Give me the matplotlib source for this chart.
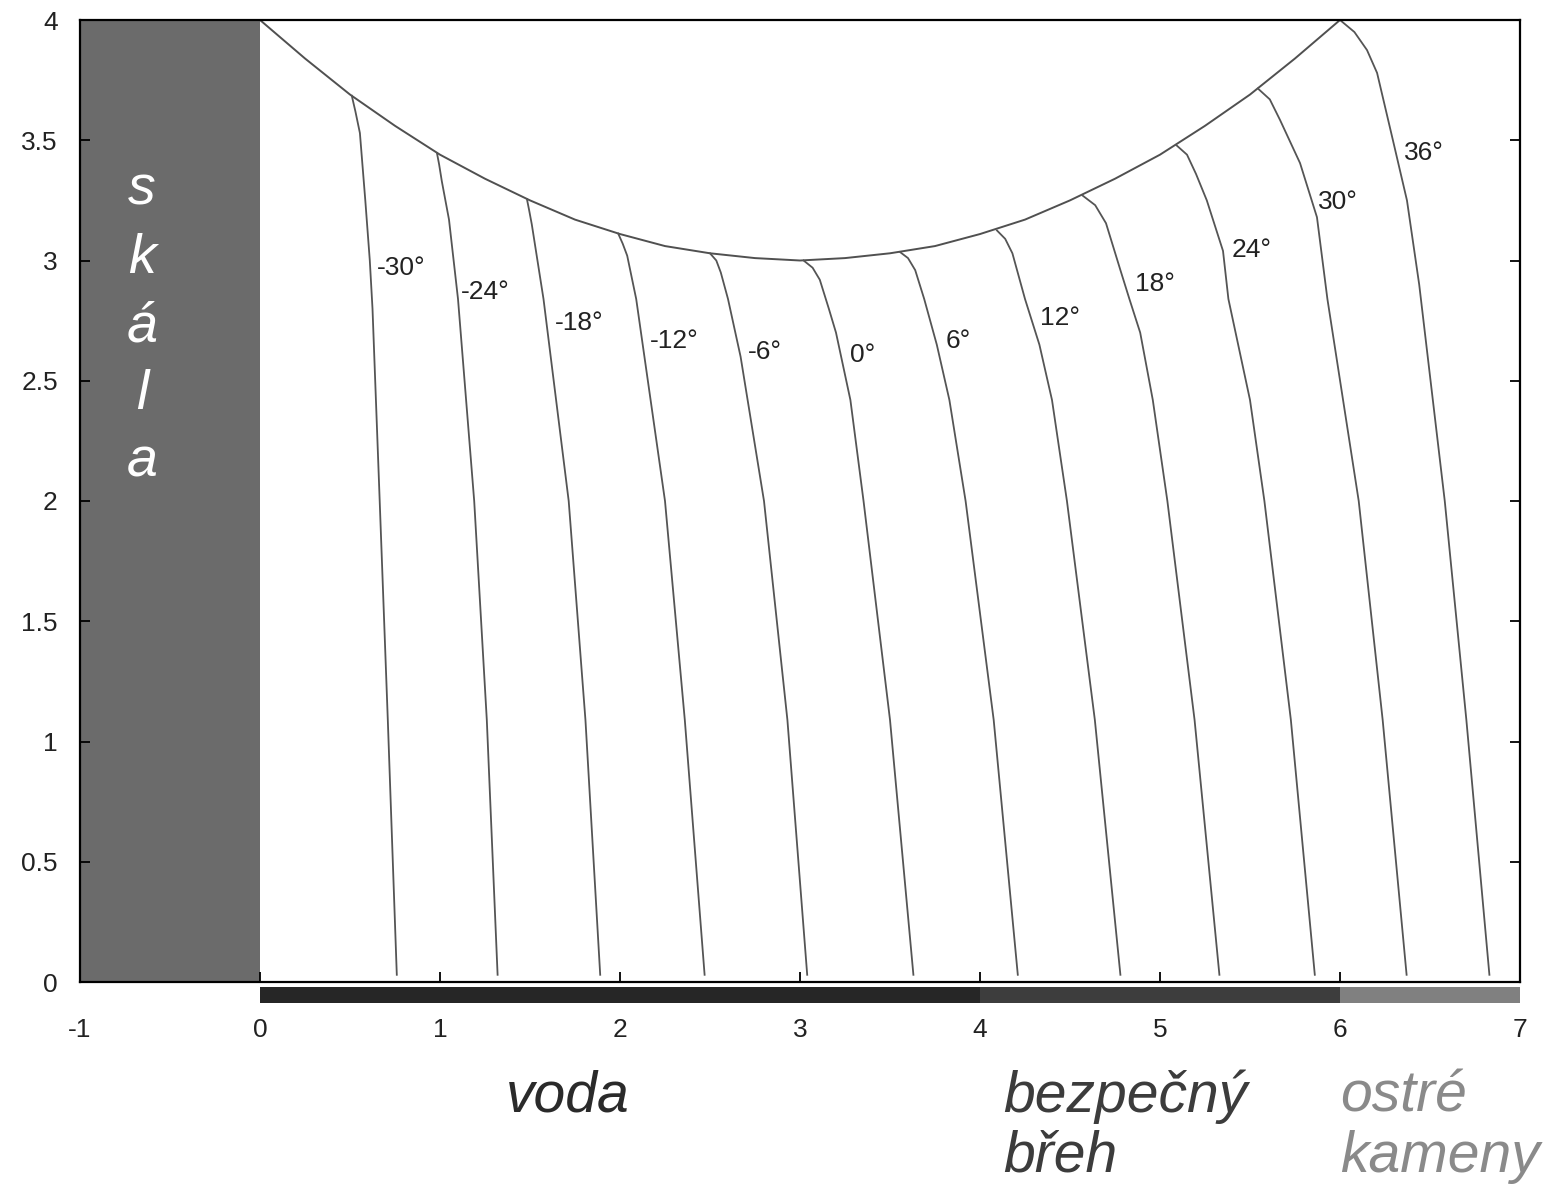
import matplotlib
matplotlib.use("Agg")
import matplotlib.pyplot as plt
from matplotlib.patches import Rectangle

plt.rcParams['font.family'] = ['Liberation Sans', 'DejaVu Sans']

# ---------------- data ----------------
angle_labels = ["-30°", "-24°", "-18°", "-12°", "-6°", "0°", "6°", "12°", "18°", "24°", "30°", "36°"]

# upper envelope (launch points)
envelope_x = [0.0, 0.25, 0.5, 0.75, 1.0, 1.25, 1.5, 1.75, 2.0, 2.25, 2.5, 2.75, 3.0,
              3.25, 3.5, 3.75, 4.0, 4.25, 4.5, 4.75, 5.0, 5.25, 5.5, 5.75, 6.0]
envelope_y = [4.0, 3.84, 3.69, 3.56, 3.44, 3.34, 3.25, 3.17, 3.11, 3.06, 3.03, 3.01, 3.0,
              3.01, 3.03, 3.06, 3.11, 3.17, 3.25, 3.34, 3.44, 3.56, 3.69, 3.84, 4.0]

# trajectories (x, y) from launch point down to the water
traj_m30_x = [0.51, 0.53, 0.555, 0.585, 0.61, 0.625, 0.665, 0.71, 0.76]
traj_m30_y = [3.685, 3.62, 3.53, 3.25, 3.0, 2.8, 2.0, 1.09, 0.03]
traj_m24_x = [0.983, 0.995, 1.01, 1.05, 1.10, 1.19, 1.26, 1.32]
traj_m24_y = [3.447, 3.40, 3.33, 3.17, 2.84, 2.0, 1.09, 0.03]
traj_m18_x = [1.483, 1.495, 1.51, 1.575, 1.715, 1.808, 1.89]
traj_m18_y = [3.255, 3.21, 3.15, 2.84, 2.0, 1.09, 0.03]
traj_m12_x = [1.99, 2.015, 2.04, 2.09, 2.25, 2.36, 2.47]
traj_m12_y = [3.112, 3.07, 3.02, 2.84, 2.0, 1.09, 0.03]
traj_m6_x = [2.5, 2.535, 2.56, 2.60, 2.67, 2.80, 2.93, 3.04]
traj_m6_y = [3.03, 3.0, 2.95, 2.84, 2.6, 2.0, 1.09, 0.03]
traj_0_x = [3.02, 3.07, 3.11, 3.16, 3.20, 3.28, 3.353, 3.50, 3.63]
traj_0_y = [3.0, 2.97, 2.92, 2.80, 2.70, 2.42, 2.0, 1.09, 0.03]
traj_6_x = [3.556, 3.60, 3.64, 3.69, 3.76, 3.83, 3.92, 4.076, 4.21]
traj_6_y = [3.035, 3.01, 2.96, 2.84, 2.65, 2.42, 2.0, 1.09, 0.03]
traj_12_x = [4.094, 4.14, 4.18, 4.25, 4.33, 4.40, 4.483, 4.638, 4.78]
traj_12_y = [3.125, 3.09, 3.03, 2.84, 2.65, 2.42, 2.0, 1.09, 0.03]
traj_18_x = [4.57, 4.64, 4.70, 4.78, 4.83, 4.89, 4.96, 5.041, 5.192, 5.33]
traj_18_y = [3.27, 3.23, 3.155, 2.96, 2.84, 2.70, 2.42, 2.0, 1.09, 0.03]
traj_24_x = [5.09, 5.15, 5.20, 5.26, 5.35, 5.38, 5.50, 5.58, 5.727, 5.86]
traj_24_y = [3.48, 3.44, 3.36, 3.25, 3.04, 2.84, 2.42, 2.0, 1.09, 0.03]
traj_30_x = [5.544, 5.61, 5.667, 5.778, 5.872, 5.93, 6.104, 6.237, 6.37]
traj_30_y = [3.715, 3.67, 3.584, 3.405, 3.18, 2.84, 2.0, 1.09, 0.03]
traj_36_x = [6.0, 6.08, 6.15, 6.206, 6.294, 6.372, 6.44, 6.582, 6.702, 6.83]
traj_36_y = [4.0, 3.95, 3.875, 3.78, 3.50, 3.25, 2.90, 2.0, 1.09, 0.03]

traj_xs = [traj_m30_x, traj_m24_x, traj_m18_x, traj_m12_x, traj_m6_x, traj_0_x,
           traj_6_x, traj_12_x, traj_18_x, traj_24_x, traj_30_x, traj_36_x]
traj_ys = [traj_m30_y, traj_m24_y, traj_m18_y, traj_m12_y, traj_m6_y, traj_0_y,
           traj_6_y, traj_12_y, traj_18_y, traj_24_y, traj_30_y, traj_36_y]

# label anchors (left edge x, centre y)
label_x = [0.65, 1.117, 1.639, 2.167, 2.711, 3.278, 3.811, 4.333, 4.861, 5.40, 5.878, 6.356]
label_y = [2.969, 2.869, 2.74, 2.665, 2.62, 2.607, 2.665, 2.761, 2.902, 3.044, 3.243, 3.447]

# zones below the axis
zone_start = [0, 4, 6]
zone_end = [4, 6, 7]
zone_colors = ["#262626", "#3d3d3d", "#808080"]

x_ticks = [-1, 0, 1, 2, 3, 4, 5, 6, 7]
y_ticks = [0, 0.5, 1, 1.5, 2, 2.5, 3, 3.5, 4]
y_ticklabels = ["0", "0.5", "1", "1.5", "2", "2.5", "3", "3.5", "4"]
cliff_letters = ["s", "k", "á", "l", "a"]

# ---------------- figure ----------------
W, H = 1559, 1189
fig = plt.figure(figsize=(W / 100, H / 100), dpi=100)
fig.patch.set_facecolor("white")
ax = fig.add_axes([80 / W, 1 - 982 / H, 1440 / W, 962 / H])
ax.set_xlim(-1, 7)
ax.set_ylim(0, 4)

# cliff
ax.add_patch(Rectangle((-1, 0), 1, 4, facecolor="#6b6b6b", edgecolor="none", zorder=1))
cliff_baselines = [3.231, 2.948, 2.665, 2.383, 2.100]
for letter, yb in zip(cliff_letters, cliff_baselines):
    ax.text(-0.655, yb, letter, color="white", fontsize=40, style="italic",
            ha="center", va="baseline", zorder=3)

# envelope and trajectories
ax.plot(envelope_x, envelope_y, color="#505050", lw=1.4, zorder=2)
for tx, ty in zip(traj_xs, traj_ys):
    ax.plot(tx, ty, color="#555555", lw=1.3, zorder=2)
for lab, lx, ly in zip(angle_labels, label_x, label_y):
    ax.text(lx, ly, lab, fontsize=19, color="#222222", ha="left", va="center", zorder=3)

# zone bar below the axis
for s, e, c in zip(zone_start, zone_end, zone_colors):
    ax.add_patch(Rectangle((s, -0.087), e - s, 0.066, facecolor=c, edgecolor="none",
                           clip_on=False, zorder=1))

# ticks and spines
ax.set_xticks(x_ticks)
ax.set_xticklabels([str(t) for t in x_ticks])
ax.set_yticks(y_ticks)
ax.set_yticklabels(y_ticklabels)
ax.tick_params(axis="both", direction="in", length=7, width=1.3, color="black",
               labelsize=19, labelcolor="#222222")
ax.tick_params(axis="y", right=True, pad=16)
ax.tick_params(axis="x", pad=26)
for sp in ax.spines.values():
    sp.set_linewidth(1.6)
    sp.set_zorder(4)

# zone labels
fig.text(568 / W, 1 - 1112 / H, "voda", fontsize=41, style="italic", color="#2a2a2a",
         ha="center", va="baseline")
fig.text(1003 / W, 1 - 1112 / H, "bezpečný", fontsize=41, style="italic", color="#3c3c3c",
         ha="left", va="baseline")
fig.text(1003 / W, 1 - 1172 / H, "břeh", fontsize=41, style="italic", color="#3c3c3c",
         ha="left", va="baseline")
fig.text(1340 / W, 1 - 1112 / H, "ostré", fontsize=41, style="italic", color="#8a8a8a",
         ha="left", va="baseline")
fig.text(1340 / W, 1 - 1172 / H, "kameny", fontsize=41, style="italic", color="#8a8a8a",
         ha="left", va="baseline")

fig.savefig("out.png", dpi=100, facecolor="white")
